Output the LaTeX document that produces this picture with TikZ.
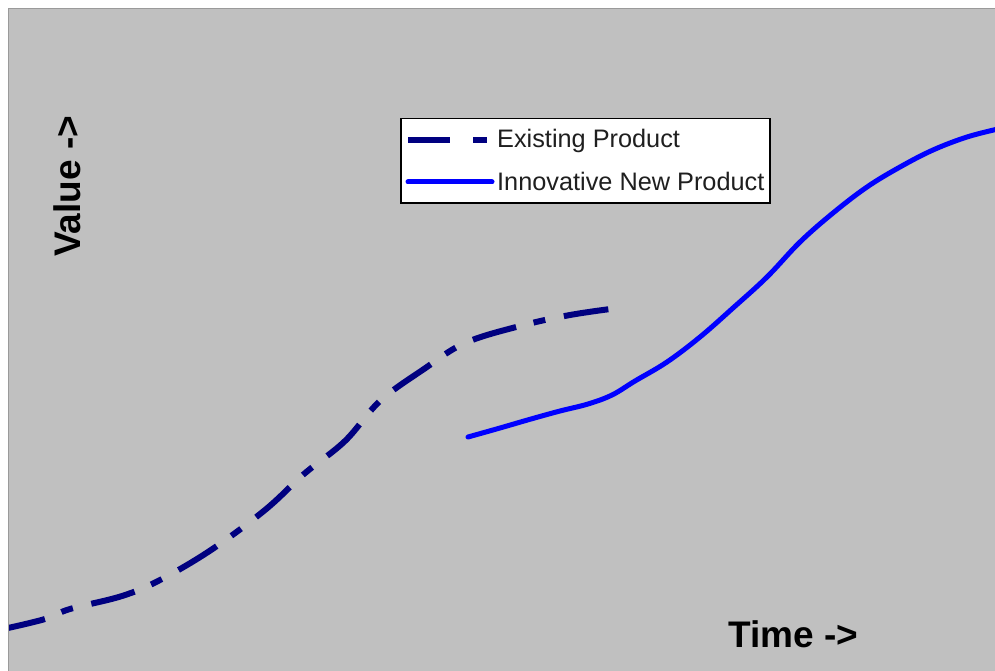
\documentclass[tikz,border=0pt]{standalone}
\usepackage{fontspec}
\setmainfont{Liberation Sans}
\definecolor{plotgray}{HTML}{C0C0C0}
\definecolor{framegray}{HTML}{9A9A9A}
\definecolor{existnavy}{HTML}{000080}
\definecolor{newblue}{HTML}{0000FF}
\begin{document}
\begin{tikzpicture}[x=1pt,y=-1pt,
  existline/.style={existnavy,line width=6pt,dash pattern=on 45pt off 18pt on 12pt off 19pt},
  newline/.style={newblue,line width=5pt,line cap=round},
  legtext/.style={inner sep=0pt,anchor=base west,font=\fontsize{25.3}{29}\selectfont,text=black!88},
  axlabel/.style={inner sep=0pt,anchor=base west,font=\fontsize{37}{42}\selectfont\bfseries}]
\useasboundingbox (0,0) rectangle (995,671);
\fill[white] (0,0) rectangle (995,671);
\fill[plotgray] (8,8) rectangle (995,671);
\draw[framegray,line width=1.5pt] (8.5,671) -- (8.5,8.5) -- (995,8.5);
% curves
\begin{scope}
\clip (9,9) rectangle (995,671);
\draw[existline,dash phase=7pt] plot[smooth,tension=0.6] coordinates {(8,628) (45,619) (70,609) (122,596) (160,580) (211,550) (265,510) (304,474) (345,441) (380,401) (424,369) (465,343) (520,326) (570,315) (618,308)};
\draw[newline] plot[smooth,tension=0.6] coordinates {(468,437) (500,428) (531,419) (560,411) (588,404) (612,395) (635,381) (667,362) (700,337) (733,308) (767,277) (800,242) (833,213) (867,187) (900,167) (933,150) (967,137) (998,129)};
\end{scope}
% legend
\node[draw=black,line width=1.5pt,fill=white,minimum width=369pt,minimum height=84pt,inner sep=0pt,anchor=north west] (legend) at (400,118) {};
\coordinate (la1) at (408,140);
\coordinate (la2) at (487,140);
\draw[existnavy,line width=6pt,dash pattern=on 42pt off 23pt on 14pt off 20pt] (la1) -- (la2);
\coordinate (lb1) at (408,182);
\coordinate (lb2) at (492,182);
\draw[newline] (lb1) -- (lb2);
\node[legtext] (legA) at (497,148) {Existing Product};
\node[legtext] (legB) at (497,190) {Innovative New Product};
% axis labels
\node[axlabel,rotate=90] (ylab) at (80,257) {Value ->};
\node[axlabel] (xlab) at (728,647) {Time ->};
\end{tikzpicture}
\end{document}
